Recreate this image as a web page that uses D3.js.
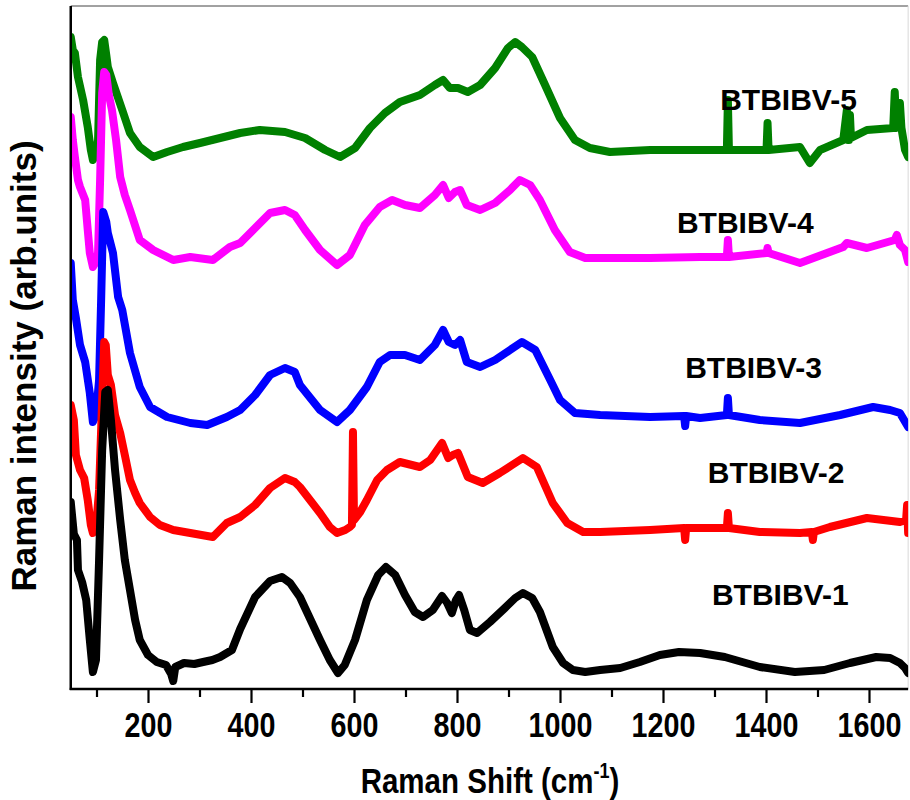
<!DOCTYPE html>
<html>
<head>
<meta charset="utf-8">
<script src="https://cdn.jsdelivr.net/npm/d3@7"></script>
<style>
  body { margin: 0; background: #fff; }
  svg text { font-family: "Liberation Sans", Arial, sans-serif; font-weight: bold; fill: #000; }
</style>
</head>
<body>
<svg id="chart" width="910" height="800"></svg>
<script>
// Raman spectra, [shift (cm^-1), intensity (arb. units, stacked offsets)]
const btbibv1 = [
  [50,187],[56,155],[62,149],[64,119],[72,107],[80,89],[87,49],[93,17],[99,29],[105,129],
  [111,239],[117,297],[122,299],[128,269],[136,219],[146,169],[155,129],[165,99],[175,69],[184,49],
  [200,34],[217,27],[235,24],[245,15],[249,8],[253,22],[270,26],[290,25],[307,27],[325,29],[340,32],
  [363,39],[379,60],[408,92],[437,108],[460,112],[476,106],[495,92],[534,49],[553,29],[569,16],
  [582,24],[602,49],[625,89],[647,114],[662,122],[680,114],[699,94],[718,77],[734,72],[753,79],
  [771,93],[781,86],[790,76],[798,89],[804,94],[814,79],[825,59],[839,56],[864,67],[893,81],
  [913,91],[928,96],[946,91],[961,77],[986,42],[1006,26],[1025,19],[1049,17],[1078,19],[1117,21],
  [1155,27],[1194,34],[1231,37],[1272,36],[1320,32],[1388,22],[1456,17],[1513,19],[1563,26],
  [1614,32],[1641,31],[1660,26],[1670,21],[1676,16]
];
const btbibv2 = [
  [50,284],[56,269],[60,234],[68,219],[76,211],[83,189],[89,164],[93,156],[99,161],[105,199],
  [111,289],[115,347],[118,344],[122,314],[128,304],[136,274],[146,256],[155,234],[165,209],[175,196],
  [184,186],[204,172],[223,164],[249,159],[282,156],[326,152],[353,166],[379,172],[408,184],[437,201],
  [466,211],[485,207],[495,202],[534,176],[553,162],[567,156],[583,159],[592,162],[596,164],[598,257],
  [600,169],[612,177],[625,189],[645,209],[664,219],[689,227],[728,222],[748,229],[771,246],[783,231],
  [792,234],[802,236],[821,212],[850,206],[883,216],[907,224],[928,231],[955,222],[986,186],[1014,166],
  [1045,157],[1078,157],[1175,159],[1241,161],[1243,149],[1245,161],[1272,161],[1324,161],[1326,176],
  [1328,161],[1388,157],[1466,156],[1489,157],[1491,149],[1493,157],[1524,162],[1596,171],[1660,167],
  [1672,169],[1674,184],[1676,156]
];
const btbibv3 = [
  [50,426],[54,389],[60,371],[68,344],[78,327],[87,296],[93,267],[99,274],[105,309],[109,389],
  [113,477],[119,467],[122,456],[132,436],[142,392],[150,379],[165,336],[184,302],[204,282],[237,272],
  [282,266],[315,264],[353,272],[379,279],[408,294],[437,314],[466,321],[485,317],[495,304],[534,279],
  [567,267],[592,279],[625,302],[650,327],[670,334],[699,334],[728,329],[757,344],[773,359],[784,347],
  [796,344],[806,349],[819,327],[845,322],[874,329],[903,339],[926,347],[952,339],[981,309],[1000,289],
  [1029,276],[1078,274],[1175,272],[1241,273],[1243,263],[1245,273],[1272,271],[1324,274],[1326,291],
  [1328,274],[1388,269],[1466,266],[1544,274],[1608,282],[1641,279],[1660,276],[1676,262]
];
const btbibv4 = [
  [50,572],[54,549],[58,532],[64,509],[68,502],[78,489],[83,459],[87,436],[93,422],[99,427],
  [103,436],[107,509],[111,596],[115,617],[119,614],[124,594],[130,579],[138,549],[146,512],[155,494],
  [165,479],[184,449],[210,439],[249,429],[282,432],[326,429],[359,442],[379,446],[408,461],[437,476],
  [466,479],[485,474],[505,459],[534,439],[567,424],[592,434],[621,464],[650,482],[674,489],[699,484],
  [728,481],[757,494],[773,504],[784,491],[796,497],[806,499],[819,484],[845,479],[874,486],[903,499],
  [922,509],[942,504],[961,489],[990,459],[1019,437],[1049,431],[1078,431],[1175,431],[1272,432],
  [1324,432],[1326,449],[1328,432],[1401,436],[1403,441],[1405,436],[1466,426],[1550,442],[1557,446],
  [1596,441],[1650,449],[1654,454],[1660,444],[1670,439],[1676,427]
];
const btbibv5 = [
  [50,652],[54,639],[58,636],[64,612],[74,589],[83,562],[89,539],[93,529],[99,534],[103,549],
  [107,629],[111,647],[115,649],[119,634],[122,622],[132,606],[150,579],[165,556],[184,542],[210,532],
  [237,537],[268,542],[301,546],[340,551],[379,556],[417,559],[466,557],[505,551],[544,539],[573,532],
  [602,541],[631,561],[660,576],[689,587],[728,594],[757,604],[773,609],[786,601],[802,601],[821,597],
  [845,604],[874,621],[899,641],[913,647],[926,642],[946,632],[971,604],[1000,571],[1029,549],[1058,541],
  [1097,537],[1175,539],[1272,539],[1324,539],[1326,589],[1328,539],[1401,539],[1403,566],[1405,539],
  [1466,542],[1485,526],[1505,539],[1550,549],[1557,579],[1559,549],[1561,549],[1563,574],[1565,551],
  [1596,559],[1647,561],[1650,597],[1653,561],[1657,563],[1660,586],[1663,561],[1670,539],[1676,532]
];

const seriesNames = ["BTBIBV-1", "BTBIBV-2", "BTBIBV-3", "BTBIBV-4", "BTBIBV-5"];
const seriesData = [btbibv1, btbibv2, btbibv3, btbibv4, btbibv5];
const seriesColors = ["#000000", "#ff0000", "#0000ff", "#ff00ff", "#008000"];
// label anchors (shift, intensity) for each spectrum's name
const labelShift = [1295, 1287, 1243, 1227, 1311];
const labelIntensity = [84, 206, 311, 456, 579];

const majorTicks = [200, 400, 600, 800, 1000, 1200, 1400, 1600];
const minorTicks = [100, 300, 500, 700, 900, 1100, 1300, 1500];

const svg = d3.select("#chart");
const plotLeft = 70.75, plotRight = 908.14, plotTop = 6, plotBottom = 689;

const x = d3.scaleLinear().domain([50, 1676]).range([plotLeft, plotRight]);
const y = d3.scaleLinear().domain([0, 683]).range([plotBottom, plotTop]);

svg.append("defs").append("clipPath").attr("id", "plot-clip")
  .append("rect").attr("x", plotLeft).attr("y", plotTop)
  .attr("width", plotRight - plotLeft).attr("height", plotBottom - plotTop);

// frame: top and right edges are light, left and bottom are the axes
svg.append("line").attr("x1", plotLeft).attr("x2", plotRight).attr("y1", plotTop).attr("y2", plotTop)
  .attr("stroke", "#444").attr("stroke-width", 1);
svg.append("line").attr("x1", plotRight).attr("x2", plotRight).attr("y1", plotTop).attr("y2", plotBottom)
  .attr("stroke", "#d8d8d8").attr("stroke-width", 1);

// spectra, drawn top-down so the lower curves sit in front
const line = d3.line().x(d => x(d[0])).y(d => y(d[1]));
const plot = svg.append("g").attr("clip-path", "url(#plot-clip)");
for (let i = seriesData.length - 1; i >= 0; i--) {
  plot.append("path")
    .datum(seriesData[i])
    .attr("d", line)
    .attr("fill", "none")
    .attr("stroke", seriesColors[i])
    .attr("stroke-width", 8)
    .attr("stroke-linejoin", "round")
    .attr("stroke-linecap", "round");
}

// axes
svg.append("line").attr("x1", plotLeft).attr("x2", plotLeft).attr("y1", plotTop).attr("y2", plotBottom + 1)
  .attr("stroke", "#000").attr("stroke-width", 2.5);
svg.append("line").attr("x1", plotLeft - 1).attr("x2", plotRight).attr("y1", plotBottom).attr("y2", plotBottom)
  .attr("stroke", "#000").attr("stroke-width", 2.5);

const majorAxis = svg.append("g").attr("transform", `translate(0,${plotBottom})`)
  .call(d3.axisBottom(x).tickValues(majorTicks).tickSize(14).tickSizeOuter(0).tickFormat(d3.format("d")));
majorAxis.select(".domain").remove();
majorAxis.selectAll(".tick line").attr("stroke", "#000").attr("stroke-width", 2.2);
majorAxis.selectAll(".tick text")
  .attr("y", 48).attr("dy", null)
  .attr("transform", "scale(0.82,1)")
  .style("font-size", "35px");

const minorAxis = svg.append("g").attr("transform", `translate(0,${plotBottom})`)
  .call(d3.axisBottom(x).tickValues(minorTicks).tickSize(8).tickSizeOuter(0).tickFormat(""));
minorAxis.select(".domain").remove();
minorAxis.selectAll(".tick line").attr("stroke", "#000").attr("stroke-width", 2.2);

// axis titles
const xTitle = svg.append("text")
  .attr("transform", "translate(490,793) scale(0.82,1)")
  .attr("text-anchor", "middle")
  .style("font-size", "36px");
xTitle.append("tspan").text("Raman Shift (cm");
xTitle.append("tspan").attr("dy", -15).style("font-size", "22px").text("-1");
xTitle.append("tspan").attr("dy", 15).text(")");

svg.append("text")
  .attr("transform", "translate(36,366) rotate(-90)")
  .attr("text-anchor", "middle")
  .style("font-size", "35px")
  .text("Raman intensity (arb.units)");

// spectrum names
svg.append("g").selectAll("text")
  .data(seriesNames)
  .join("text")
  .attr("x", (d, i) => x(labelShift[i]))
  .attr("y", (d, i) => y(labelIntensity[i]))
  .style("font-size", "30px")
  .text(d => d);
</script>
</body>
</html>
